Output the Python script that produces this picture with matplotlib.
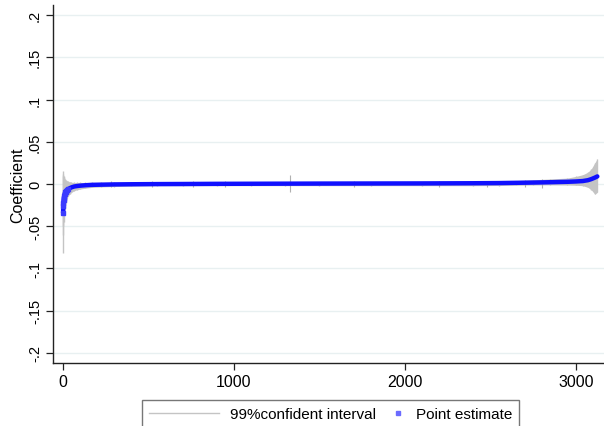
import matplotlib
matplotlib.use("Agg")
import matplotlib.pyplot as plt
from matplotlib.lines import Line2D
from matplotlib.legend_handler import HandlerLine2D

plt.rcParams['font.family'] = ['Liberation Sans', 'DejaVu Sans']

# Data (sorted coefficient index, estimate, 99% CI)
idx = [1, 2, 3, 4, 6, 8, 10, 13, 16, 20, 25, 30, 40, 50, 65, 80, 100, 130, 170,
       220, 300, 400, 550, 700, 900, 1100, 1300, 1500, 1800, 2100, 2400, 2550,
       2650, 2750, 2850, 2950, 3000, 3040, 3070, 3090, 3110, 3125]
est = [-0.034, -0.026, -0.022, -0.019, -0.016, -0.014, -0.012, -0.010, -0.009,
       -0.008, -0.007, -0.006, -0.005, -0.004, -0.003, -0.0025, -0.002, -0.0015,
       -0.001, -0.0008, -0.0005, -0.0003, -0.0001, 0.0, 0.0002, 0.0003, 0.0004,
       0.0005, 0.0006, 0.0007, 0.0009, 0.0011, 0.0014, 0.0017, 0.0021, 0.0026,
       0.003, 0.0035, 0.0045, 0.0058, 0.0075, 0.0090]
lower = [-0.082, -0.060, -0.050, -0.045, -0.038, -0.033, -0.030, -0.025, -0.022,
         -0.019, -0.016, -0.014, -0.012, -0.010, -0.008, -0.007, -0.006, -0.005,
         -0.004, -0.0035, -0.003, -0.0025, -0.002, -0.002, -0.002, -0.002, -0.002,
         -0.002, -0.002, -0.002, -0.002, -0.0018, -0.0015, -0.0012, -0.001,
         -0.0012, -0.0015, -0.002, -0.004, -0.007, -0.012, -0.010]
upper = [0.015, 0.012, 0.010, 0.009, 0.008, 0.007, 0.006, 0.005, 0.0045, 0.004,
         0.0035, 0.003, 0.0025, 0.002, 0.0018, 0.0018, 0.0018, 0.0018, 0.0018,
         0.0018, 0.0018, 0.0018, 0.0018, 0.002, 0.002, 0.002, 0.0022, 0.0022,
         0.0023, 0.0024, 0.0025, 0.0035, 0.004, 0.005, 0.006, 0.007, 0.009,
         0.011, 0.014, 0.018, 0.025, 0.030]
spike_x = [280, 520, 760, 950, 1330, 1700, 2200, 2480, 2700, 2800]
spike_lo = [-0.003, -0.003, -0.003, -0.003, -0.009, -0.003, -0.003, -0.003, -0.004, -0.005]
spike_hi = [0.003, 0.003, 0.003, 0.003, 0.011, 0.003, 0.003, 0.003, 0.005, 0.006]

yticks = [-0.2, -0.15, -0.1, -0.05, 0, 0.05, 0.1, 0.15, 0.2]
ytick_labels = ['-.2', '-.15', '-.1', '-.05', '0', '.05', '.1', '.15', '.2']
xticks = [0, 1000, 2000, 3000]

fig = plt.figure(figsize=(6.04, 4.27), dpi=100)
ax = fig.add_axes([53/604, 63/427, 551/604, 358/427])

for y in yticks:
    ax.axhline(y, color='#e8f0f1', lw=1.0, zorder=0)

ci_color = '#c4c4c4'
ax.fill_between(idx, lower, upper, color=ci_color, lw=0, zorder=1)
ax.vlines(idx, lower, upper, color=ci_color, lw=1.0, zorder=1)
ax.vlines(spike_x, spike_lo, spike_hi, color='#b0b0b0', lw=0.8, zorder=1)
ax.plot(idx, est, color='#1010ff', lw=3.2, zorder=3, solid_capstyle='round')
ax.plot(idx[:12], est[:12], 's', color='#3b3bff', ms=2.5, zorder=4)

ax.set_xlim(-58, 3164)
ax.set_ylim(-0.212, 0.212)
ax.set_yticks(yticks)
ax.set_yticklabels(ytick_labels, rotation=90, va='center', fontsize=10.5)
ax.set_xticks(xticks)
ax.set_xticklabels([str(v) for v in xticks], fontsize=11.5)
ax.tick_params(direction='out', length=5, width=0.9, color='#222222', pad=3)
ax.set_ylabel('Coefficient', fontsize=11.5, labelpad=2)
for s in ['top', 'right']:
    ax.spines[s].set_visible(False)
for s in ['left', 'bottom']:
    ax.spines[s].set_color('#222222')
    ax.spines[s].set_linewidth(1.0)


class RightMarkerHandler(HandlerLine2D):
    def get_xdata(self, legend, xdescent, ydescent, width, height, fontsize):
        right = width - xdescent
        return [right - 8, right - 2], [right - 5]


handles = [Line2D([0], [0], color=ci_color, lw=1.0),
           Line2D([0], [0], color='#6b6bff', marker='s', ms=2.2, lw=0)]
leg = fig.legend(handles, ['99%confident interval', 'Point estimate'],
                 loc='upper left', bbox_to_anchor=(142/604, 1 - 401/427),
                 ncol=2, fontsize=11, frameon=True, fancybox=False,
                 edgecolor='#555555', handlelength=4.6, columnspacing=-2.7,
                 borderpad=0.45, handletextpad=0.7, borderaxespad=0,
                 handler_map={handles[1]: RightMarkerHandler()})
leg.get_frame().set_linewidth(1.0)

fig.savefig('out.png', dpi=100)
